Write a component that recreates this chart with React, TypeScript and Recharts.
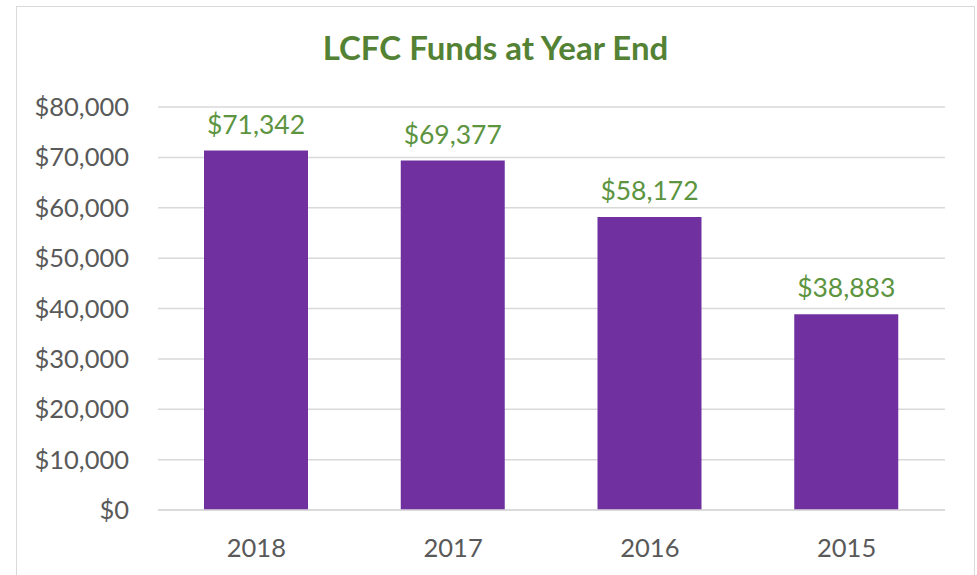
import React from 'react';
import { BarChart, Bar, XAxis, YAxis, CartesianGrid, LabelList } from 'recharts';

const years = ['2018', '2017', '2016', '2015'];
const funds = [71342, 69377, 58172, 38883];
const yTicks = [0, 10000, 20000, 30000, 40000, 50000, 60000, 70000, 80000];

const data = years.map((year, i) => ({ year, funds: funds[i] }));

const money = (v: number) => '$' + v.toLocaleString('en-US');

const font = 'Lato, "Open Sans", sans-serif';

export default function App() {
    return (
        <div
            style={{
                position: 'absolute',
                left: 16,
                top: 6,
                width: 957,
                height: 580,
                border: '1.5px solid #d9d9d9',
                background: '#fff',
                fontFamily: font,
            }}
        >
            <div
                style={{
                    position: 'absolute',
                    top: 20,
                    left: 0,
                    width: 957,
                    textAlign: 'center',
                    fontSize: 33,
                    fontWeight: 700,
                    color: '#548235',
                }}
            >
                LCFC Funds at Year End
            </div>
            <BarChart
                width={957}
                height={570}
                data={data}
                margin={{ top: 100, right: 29, left: 0, bottom: 27 }}
                style={{ fontFamily: font }}
            >
                <CartesianGrid vertical={false} stroke="#d9d9d9" strokeWidth={1.5} />
                <XAxis
                    dataKey="year"
                    height={40}
                    tickLine={false}
                    axisLine={{ stroke: '#d9d9d9', strokeWidth: 1.5 }}
                    tick={{ fill: '#595959', fontSize: 25.5 }}
                    tickMargin={23}
                />
                <YAxis
                    width={141}
                    domain={[0, 80000]}
                    ticks={yTicks}
                    tickFormatter={money}
                    tickLine={false}
                    axisLine={false}
                    tick={{ fill: '#595959', fontSize: 25.5 }}
                    tickMargin={23}
                />
                <Bar dataKey="funds" fill="#7030a0" barSize={104} isAnimationActive={false}>
                    <LabelList
                        dataKey="funds"
                        position="top"
                        offset={17}
                        formatter={(v: number) => money(v)}
                        style={{ fill: '#5c9440', fontSize: 26.5, fontFamily: font }}
                    />
                </Bar>
            </BarChart>
        </div>
    );
}
